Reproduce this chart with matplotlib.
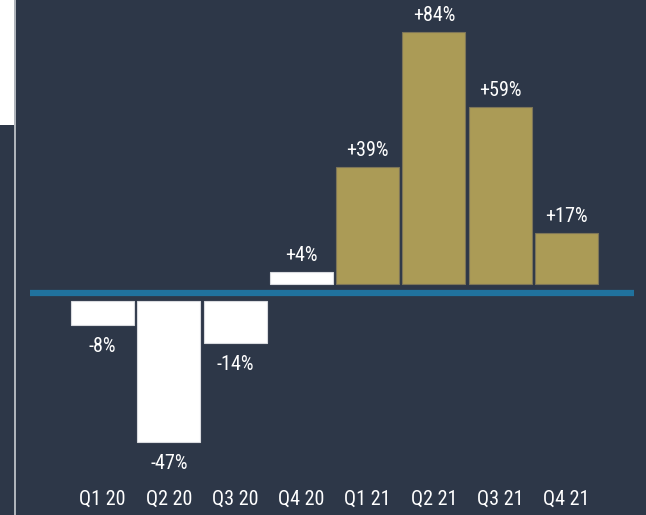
import matplotlib
matplotlib.use("Agg")
import matplotlib.pyplot as plt
from matplotlib.patches import Rectangle

quarters = ["Q1 20", "Q2 20", "Q3 20", "Q4 20", "Q1 21", "Q2 21", "Q3 21", "Q4 21"]
values = [-8, -47, -14, 4, 39, 84, 59, 17]
labels = ["-8%", "-47%", "-14%", "+4%", "+39%", "+84%", "+59%", "+17%"]
colors = ["#ffffff", "#ffffff", "#ffffff", "#ffffff", "#ab9b56", "#ab9b56", "#ab9b56", "#ab9b56"]

BG = "#2d3748"
plt.rcParams['font.family'] = ['Roboto Condensed', 'Roboto', 'DejaVu Sans']

fig = plt.figure(figsize=(6.46, 5.15), dpi=100, facecolor=BG)
ax = fig.add_axes([0, 0, 1, 1])
ax.set_facecolor(BG)
ax.set_xlim(-1.546, 8.198)
ax.set_ylim(-74.0, 97.67)
ax.axis("off")

FS = 14.5
pos_gap = 3.0
neg_gap = -2.5
for i, v in enumerate(values):
    if v >= 0:
        bottom = pos_gap
        ax.bar(i, v, bottom=bottom, width=0.95, color=colors[i],
               edgecolor="#7d7558" if colors[i] != "#ffffff" else "#d8dade", linewidth=0.8)
        ax.text(i, bottom + v + 5.6, labels[i], ha="center", va="center", color="white",
                fontsize=FS, fontweight="normal")
    else:
        top = neg_gap
        ax.bar(i, v, bottom=top, width=0.95, color=colors[i], edgecolor="#d8dade", linewidth=0.8)
        ax.text(i, top + v - 7.3, labels[i], ha="center", va="center", color="white",
                fontsize=FS, fontweight="normal")
    ax.text(i, -68.8, quarters[i], ha="center", va="center", color="white",
            fontsize=FS, fontweight="normal")

ax.hlines(0, -1.09, 8.02, color="#20729e", linewidth=4.5)

# decorative left panel
fig.patches.append(Rectangle((0, 1 - 125 / 515), 14 / 646, 125 / 515, transform=fig.transFigure,
                             facecolor="white", edgecolor="none"))
fig.lines.append(plt.Line2D([14.5 / 646, 14.5 / 646], [0, 1], transform=fig.transFigure,
                            color="#c9ccd1", linewidth=1.2))

fig.savefig("out.png", dpi=100, facecolor=BG)
